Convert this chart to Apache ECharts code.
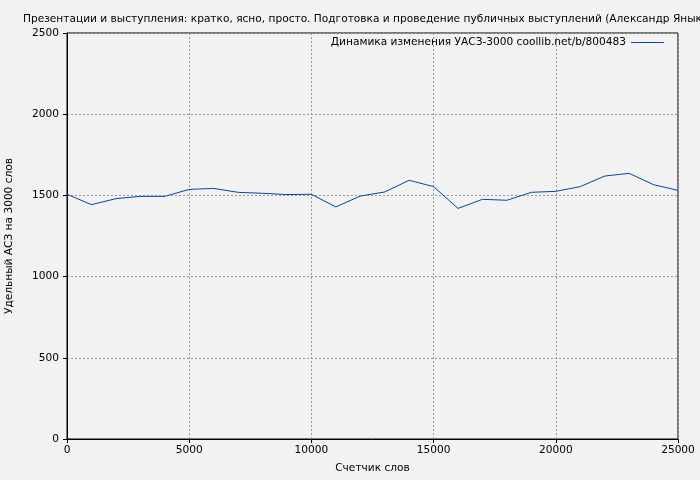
<!DOCTYPE html>
<html><head><meta charset="utf-8">
<script src="https://cdn.jsdelivr.net/npm/echarts@6/dist/echarts.min.js"></script>
<style>html,body{margin:0;padding:0;background:#f2f2f2}#c{width:700px;height:480px}</style>
</head><body><div id="c"></div>
<script>
const titleText = 'Презентации и выступления: кратко, ясно, просто. Подготовка и проведение публичных выступлений (Александр Яныкбаев)';
const seriesName = 'Динамика изменения УАСЗ-3000 coollib.net/b/800483';
const xName = 'Счетчик слов';
const yName = 'Удельный АСЗ на 3000 слов';
const wordCounts = [0,1000,2000,3000,4000,5000,6000,7000,8000,9000,10000,11000,12000,13000,14000,15000,16000,17000,18000,19000,20000,21000,22000,23000,24000,25000];
const values = [1507,1443,1480,1494,1494,1537,1543,1519,1513,1505,1507,1429,1496,1521,1593,1554,1420,1476,1470,1519,1525,1554,1619,1636,1566,1531];

const font = 'DejaVu Sans, Verdana, sans-serif';
const fs = 10.6;
const chart = echarts.init(document.getElementById('c'));
chart.setOption({
  backgroundColor: '#f2f2f2',
  animation: false,
  textStyle: {fontFamily: font},
  title: {text: titleText, left: 18, top: 9, textStyle: {fontSize: fs, fontWeight: 'normal', color: '#000', fontFamily: font}},
  legend: {
    right: 36, top: 37, padding: 0, align: 'right', itemWidth: 33, itemHeight: 1, itemGap: 8,
    textStyle: {fontSize: fs, color: '#000', fontFamily: font},
    data: [{name: seriesName, icon: 'rect'}]
  },
  grid: {left: 67, right: 22, top: 33, bottom: 41, show: true, borderColor: '#000', borderWidth: 1, containLabel: false, outerBoundsMode: 'none'},
  xAxis: {
    type: 'value', min: 0, max: 25000, interval: 5000,
    name: xName, nameLocation: 'middle', nameGap: 24,
    nameTextStyle: {fontSize: fs, color: '#000', fontFamily: font},
    axisLine: {show: true, lineStyle: {color: '#000', width: 1}},
    axisTick: {show: true, length: 4, lineStyle: {color: '#000'}},
    axisLabel: {fontSize: fs, color: '#000', margin: 6, fontFamily: font, formatter: v => String(v)},
    splitLine: {show: true, lineStyle: {color: '#999', type: [2, 2], width: 1}}
  },
  yAxis: {
    type: 'value', min: 0, max: 2500, interval: 500,
    name: yName, nameLocation: 'middle', nameGap: 52, nameRotate: 90,
    nameTextStyle: {fontSize: fs, color: '#000', fontFamily: font},
    axisLine: {show: true, lineStyle: {color: '#000', width: 1}},
    axisTick: {show: true, length: 4, lineStyle: {color: '#000'}},
    axisLabel: {fontSize: fs, color: '#000', margin: 8, fontFamily: font, formatter: v => String(v)},
    splitLine: {show: true, lineStyle: {color: '#999', type: [2, 2], width: 1}}
  },
  series: [{
    name: seriesName, type: 'line', showSymbol: false, symbol: 'none',
    data: wordCounts.map((w, i) => [w, values[i]]),
    lineStyle: {color: '#0047ab', width: 1},
    itemStyle: {color: '#0047ab'}
  }]
});
</script></body></html>
